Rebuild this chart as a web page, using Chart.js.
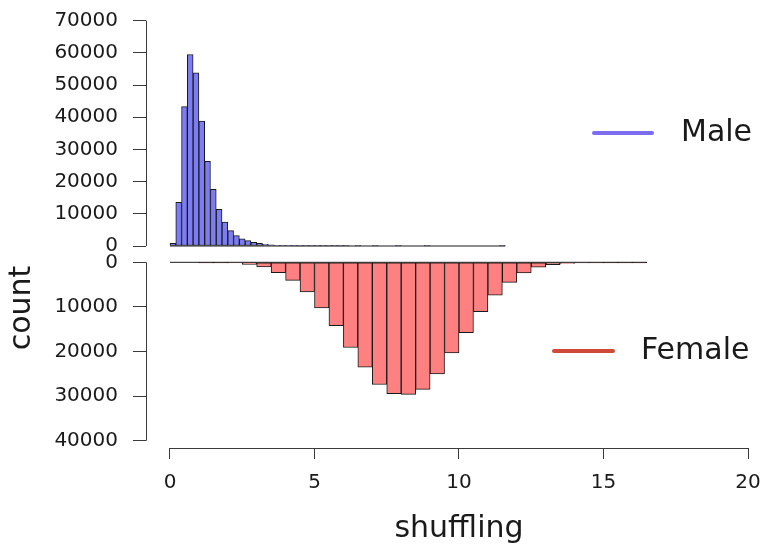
<!DOCTYPE html>
<html>
<head>
<meta charset="utf-8">
<script src="https://cdn.jsdelivr.net/npm/chart.js@4.4.1/dist/chart.umd.min.js"></script>
<style>
  html, body { margin: 0; padding: 0; background: #ffffff; }
  #wrap { position: relative; width: 763px; height: 548px; overflow: hidden; }
  #wrap canvas { position: absolute; left: 0; top: 0; }
</style>
</head>
<body>
<div id="wrap">
  <canvas id="topChart" width="763" height="548"></canvas>
  <canvas id="botChart" width="763" height="548"></canvas>
</div>
<script>
// ---------------- DATA ----------------
const seriesNames = ['Male', 'Female'];
const xAxisTitle = 'shuffling';
const yAxisTitle = 'count';
const xTickValues = [0, 5, 10, 15, 20];
const maleTickValues = [0, 10000, 20000, 30000, 40000, 50000, 60000, 70000];
const femaleTickValues = [0, 10000, 20000, 30000, 40000];

// Male histogram: bins of width 0.2 starting at 0
const maleBinStart = 0;
const maleBinWidth = 0.2;
const maleCounts = [
  800, 13600, 43300, 59500, 53800, 38800, 26300, 17600, 11400, 7400,
  4800, 3200, 2200, 1650, 1150, 830, 520, 330, 200, 130,
  80, 50, 30, 20, 12, 8, 5, 3, 2, 1,
  1, 0, 1, 0, 0, 1, 0, 0, 0, 1,
  0, 0, 0, 0, 1, 0, 0, 0, 0, 0,
  0, 0, 0, 0, 0, 0, 0, 1
];

// Female histogram: bins of width 0.5 starting at 0
const femaleBinStart = 0;
const femaleBinWidth = 0.5;
const femaleCounts = [
  0, 0, 5, 20, 150, 450, 1050, 2300, 4050, 6650,
  10250, 14200, 19100, 23500, 27400, 29450, 29600, 28500, 25050, 20300,
  15800, 11050, 7350, 4500, 2400, 1120, 520, 250, 100, 40,
  10, 3, 1
];

// ---------------- LAYOUT / STYLE ----------------
const FONT = "'DejaVu Sans', 'Liberation Sans', sans-serif";
Chart.defaults.font.family = FONT;
const TEXT = '#1a1a1a';
const AXIS = '#3a3a3a';
const MALE_FILL = '#7c7cf4';
const FEMALE_FILL = '#ff8080';
const MALE_LINE = '#7b6cf0';
const FEMALE_LINE = '#cf4a3a';
const BAR_EDGE = '#1a1a1a';
const AXIS_BOX_W = 146;      // width reserved for the y axis
const X_MIN = -0.83;          // detached R-style axes: plot starts a bit left of 0
const X_MAX = 20;
const FEMALE_Y_MAX = 41640;   // room below 40000 for the detached x axis

function toBars(start, width, counts) {
  return counts.map((c, i) => ({ x: start + (i + 0.5) * width, y: c }));
}
function baseline(start, width, counts) {
  return [{ x: start, y: 0 }, { x: start + counts.length * width, y: 0 }];
}
function setTicks(values) {
  return (scale) => { scale.ticks = values.map(v => ({ value: v })); };
}
function noPad(s) { s.paddingLeft = 0; s.paddingRight = 0; s.paddingTop = 0; s.paddingBottom = 0; }

// Axis lines spanning only the tick range (R style)
const axisLines = {
  id: 'axisLines',
  afterDatasetsDraw(chart, args, opts) {
    const ctx = chart.ctx;
    ctx.save();
    ctx.strokeStyle = AXIS;
    ctx.lineWidth = 1;
    const y = chart.scales.y;
    const yt = opts.yTicks;
    const ax = Math.round(chart.chartArea.left) + 0.5;
    ctx.beginPath();
    ctx.moveTo(ax, y.getPixelForValue(yt[0]));
    ctx.lineTo(ax, y.getPixelForValue(yt[yt.length - 1]));
    ctx.stroke();
    if (opts.xAxis) {
      const x = chart.scales.x;
      const ay = Math.round(chart.chartArea.bottom) + 0.5;
      ctx.beginPath();
      ctx.moveTo(x.getPixelForValue(xTickValues[0]), ay);
      ctx.lineTo(x.getPixelForValue(xTickValues[xTickValues.length - 1]), ay);
      ctx.stroke();
    }
    ctx.restore();
  }
};

// Legend entry: thick line + label
const lineLegend = {
  id: 'lineLegend',
  afterDraw(chart, args, opts) {
    const ctx = chart.ctx;
    ctx.save();
    ctx.strokeStyle = opts.color;
    ctx.lineWidth = 4;
    ctx.lineCap = 'round';
    ctx.beginPath();
    ctx.moveTo(opts.x1, opts.y);
    ctx.lineTo(opts.x2, opts.y);
    ctx.stroke();
    ctx.fillStyle = TEXT;
    ctx.font = '30px ' + FONT;
    ctx.textAlign = 'left';
    ctx.textBaseline = 'middle';
    ctx.fillText(opts.text, opts.tx, opts.y);
    ctx.restore();
  }
};

// Axis titles
const axisTitles = {
  id: 'axisTitles',
  afterDraw(chart, args, opts) {
    const ctx = chart.ctx;
    ctx.save();
    ctx.fillStyle = TEXT;
    ctx.font = '30px ' + FONT;
    ctx.textAlign = 'center';
    ctx.textBaseline = 'alphabetic';
    ctx.fillText(xAxisTitle, chart.scales.x.getPixelForValue(10), opts.xTitleY);
    ctx.translate(opts.yTitleX, opts.yTitleY);
    ctx.rotate(-Math.PI / 2);
    ctx.textBaseline = 'middle';
    ctx.fillText(yAxisTitle, 0, 0);
    ctx.restore();
  }
};

const tickFont = { family: FONT, size: 20 };

// ---------------- TOP CHART (Male) ----------------
new Chart(document.getElementById('topChart'), {
  type: 'bar',
  data: {
    datasets: [
      {
        type: 'bar', label: seriesNames[0],
        data: toBars(maleBinStart, maleBinWidth, maleCounts),
        backgroundColor: MALE_FILL, borderColor: BAR_EDGE, borderWidth: 1,
        borderSkipped: false, barPercentage: 1, categoryPercentage: 1, clip: false, order: 2
      },
      {
        type: 'line', label: 'base',
        data: baseline(maleBinStart, maleBinWidth, maleCounts),
        borderColor: BAR_EDGE, borderWidth: 1, pointRadius: 0, clip: false, order: 0
      }
    ]
  },
  options: {
    responsive: false, animation: false, devicePixelRatio: 1,
    layout: { padding: { left: 0, right: 15, top: 20.7, bottom: 302 } },
    plugins: {
      legend: { display: false }, tooltip: { enabled: false },
      axisLines: { yTicks: maleTickValues, xAxis: false },
      lineLegend: { text: seriesNames[0], color: MALE_LINE, x1: 594, x2: 652, y: 133, tx: 681 }
    },
    scales: {
      x: { type: 'linear', min: X_MIN, max: X_MAX, display: false, offset: false, grid: { offset: false },
           afterFit: noPad },
      y: {
        type: 'linear', min: 0, max: 70000,
        afterFit: (s) => { s.width = AXIS_BOX_W; noPad(s); },
        afterBuildTicks: setTicks(maleTickValues),
        border: { display: false },
        grid: { drawOnChartArea: false, drawTicks: true, tickLength: 13, color: AXIS, tickColor: AXIS },
        ticks: { padding: 15, font: tickFont, color: TEXT, callback: (v) => String(v) }
      }
    }
  },
  plugins: [axisLines, lineLegend]
});

// ---------------- BOTTOM CHART (Female) ----------------
new Chart(document.getElementById('botChart'), {
  type: 'bar',
  data: {
    datasets: [
      {
        type: 'bar', label: seriesNames[1],
        data: toBars(femaleBinStart, femaleBinWidth, femaleCounts),
        backgroundColor: FEMALE_FILL, borderColor: BAR_EDGE, borderWidth: 1,
        borderSkipped: false, barPercentage: 1, categoryPercentage: 1, clip: false, order: 2
      },
      {
        type: 'line', label: 'base',
        data: baseline(femaleBinStart, femaleBinWidth, femaleCounts),
        borderColor: BAR_EDGE, borderWidth: 1, pointRadius: 0, clip: false, order: 0
      }
    ]
  },
  options: {
    responsive: false, animation: false, devicePixelRatio: 1,
    layout: { padding: { left: 0, right: 15, top: 262.3, bottom: 0 } },
    plugins: {
      legend: { display: false }, tooltip: { enabled: false },
      axisLines: { yTicks: femaleTickValues, xAxis: true },
      lineLegend: { text: seriesNames[1], color: FEMALE_LINE, x1: 554, x2: 613, y: 351, tx: 641 },
      axisTitles: { xTitleY: 537, yTitleX: 22, yTitleY: 308 }
    },
    scales: {
      x: {
        type: 'linear', min: X_MIN, max: X_MAX, offset: false,
        afterFit: (s) => { s.height = 100; noPad(s); },
        afterBuildTicks: setTicks(xTickValues),
        border: { display: false },
        grid: { offset: false, drawOnChartArea: false, drawTicks: true, tickLength: 11, color: AXIS, tickColor: AXIS },
        ticks: { padding: 12, font: tickFont, color: TEXT, maxRotation: 0, autoSkip: false, callback: (v) => String(v) }
      },
      y: {
        type: 'linear', reverse: true, min: 0, max: FEMALE_Y_MAX,
        afterFit: (s) => { s.width = AXIS_BOX_W; noPad(s); },
        afterBuildTicks: setTicks(femaleTickValues),
        border: { display: false },
        grid: { drawOnChartArea: false, drawTicks: true, tickLength: 13, color: AXIS, tickColor: AXIS },
        ticks: { padding: 15, font: tickFont, color: TEXT, callback: (v) => String(v) }
      }
    }
  },
  plugins: [axisLines, lineLegend, axisTitles]
});
</script>
</body>
</html>
